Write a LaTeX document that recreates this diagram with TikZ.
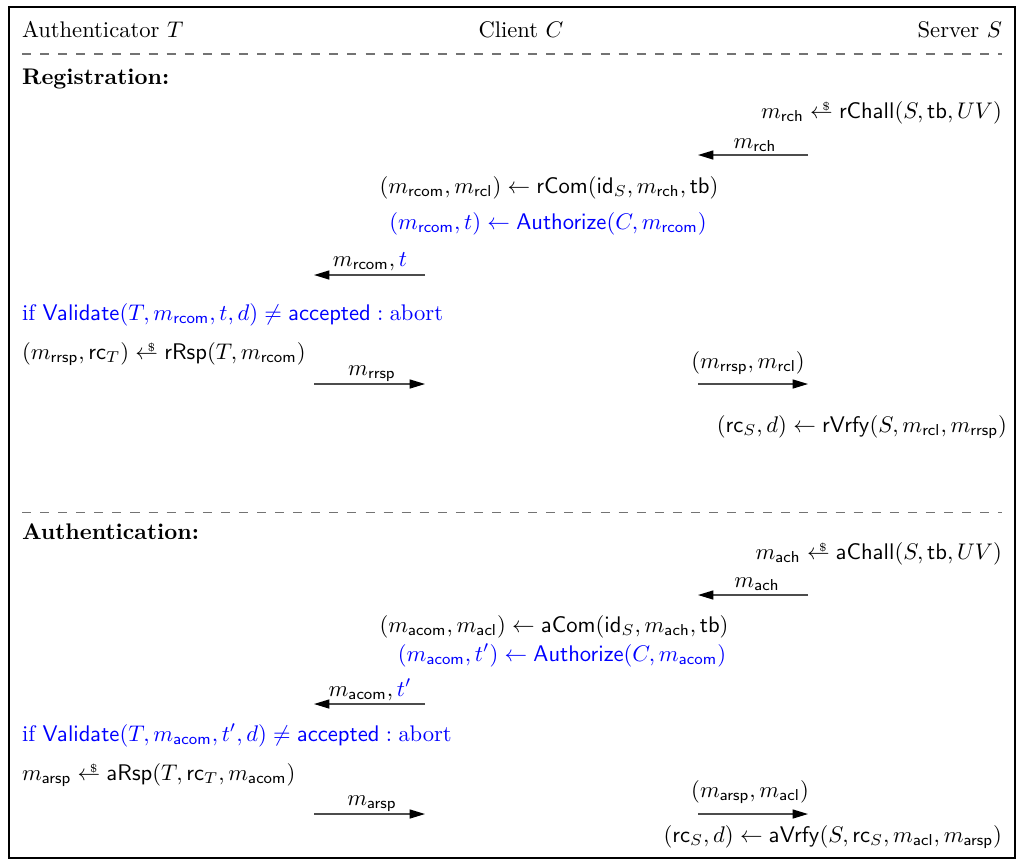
\documentclass[tikz,border=0pt]{standalone}
\usetikzlibrary{arrows.meta}
\newcommand{\msf}[1]{\mathsf{#1}}
\newcommand{\sampl}{\mathrel{\ooalign{$\leftarrow$\cr\hfil\raisebox{0.8ex}{$\scriptscriptstyle\$$}\kern1.2pt\cr}}}
\begin{document}
\begin{tikzpicture}[x=0.4425pt,y=-0.4425pt,
  txt/.style={inner sep=0pt, outer sep=0pt},
  lft/.style={txt, anchor=base west},
  rgt/.style={txt, anchor=base east},
  ctr/.style={txt, anchor=base},
  msg/.style={draw=black!70, line width=0.55pt, -{Triangle[length=6.8pt,width=4pt,color=black]}},
  sep/.style={draw=black!55, dash pattern=on 4pt off 4pt, line width=0.45pt},
  frame/.style={draw=black, line width=1.2pt}]
\useasboundingbox (0,0) rectangle (1025,866);
\draw[frame] (9,7) rectangle (1015,858);
% header
\node[lft] (hT) at (22,37) {Authenticator $T$};
\node[ctr] (hC) at (521,37) {Client $C$};
\node[rgt] (hS) at (1002,37) {Server $S$};
\draw[sep] (22,54) -- (1002,54);
% registration
\node[lft] (reg) at (22,84) {\textbf{Registration:}};
\node[rgt] (rch) at (1002,118) {$m_{\msf{rch}} \sampl \msf{rChall}(S,\msf{tb},UV)$};
\coordinate (a1s) at (808,155); \coordinate (a1e) at (698,155);
\draw[msg] (a1s) -- (a1e);
\node[ctr] (l1) at (755,148) {$m_{\msf{rch}}$};
\node[ctr] (rcom) at (549,193) {$(m_{\msf{rcom}},m_{\msf{rcl}}) \leftarrow \msf{rCom}(\msf{id}_S,m_{\msf{rch}},\msf{tb})$};
\node[ctr,text=blue] (auth1) at (548,229) {$(m_{\msf{rcom}},t) \leftarrow \msf{Authorize}(C,m_{\msf{rcom}})$};
\coordinate (a2s) at (425,275); \coordinate (a2e) at (314,275);
\draw[msg] (a2s) -- (a2e);
\node[ctr] (l2) at (370,266) {$m_{\msf{rcom}},\textcolor{blue}{t}$};
\node[lft,text=blue] (val1) at (22,320) {if $\msf{Validate}(T,m_{\msf{rcom}},t,d) \neq \msf{accepted} : \mathrm{abort}$};
\node[lft] (rrsp) at (22,359) {$(m_{\msf{rrsp}},\msf{rc}_T) \sampl \msf{rRsp}(T,m_{\msf{rcom}})$};
\coordinate (a3s) at (314,384); \coordinate (a3e) at (425,384);
\draw[msg] (a3s) -- (a3e);
\node[ctr] (l3) at (372,375) {$m_{\msf{rrsp}}$};
\coordinate (a4s) at (698,384); \coordinate (a4e) at (808,384);
\draw[msg] (a4s) -- (a4e);
\node[ctr] (l4) at (748,368) {$(m_{\msf{rrsp}},m_{\msf{rcl}})$};
\node[rgt] (rvrfy) at (1007,432) {$(\msf{rc}_S,d) \leftarrow \msf{rVrfy}(S,m_{\msf{rcl}},m_{\msf{rrsp}})$};
% authentication
\draw[sep] (22,512) -- (1002,512);
\node[lft] (auth) at (22,539) {\textbf{Authentication:}};
\node[rgt] (ach) at (1002,559) {$m_{\msf{ach}} \sampl \msf{aChall}(S,\msf{tb},UV)$};
\coordinate (b1s) at (808,595); \coordinate (b1e) at (698,595);
\draw[msg] (b1s) -- (b1e);
\node[ctr] (m1) at (757,587) {$m_{\msf{ach}}$};
\node[ctr] (acom) at (554,632) {$(m_{\msf{acom}},m_{\msf{acl}}) \leftarrow \msf{aCom}(\msf{id}_S,m_{\msf{ach}},\msf{tb})$};
\node[ctr,text=blue] (auth2) at (562,661) {$(m_{\msf{acom}},t') \leftarrow \msf{Authorize}(C,m_{\msf{acom}})$};
\coordinate (b2s) at (425,704); \coordinate (b2e) at (314,704);
\draw[msg] (b2s) -- (b2e);
\node[ctr] (m2) at (370,696) {$m_{\msf{acom}},\textcolor{blue}{t'}$};
\node[lft,text=blue] (val2) at (22,741) {if $\msf{Validate}(T,m_{\msf{acom}},t',d) \neq \msf{accepted} : \mathrm{abort}$};
\node[lft] (arsp) at (22,780) {$m_{\msf{arsp}} \sampl \msf{aRsp}(T,\msf{rc}_T,m_{\msf{acom}})$};
\coordinate (b3s) at (314,814); \coordinate (b3e) at (425,814);
\draw[msg] (b3s) -- (b3e);
\node[ctr] (m3) at (372,805) {$m_{\msf{arsp}}$};
\coordinate (b4s) at (698,814); \coordinate (b4e) at (808,814);
\draw[msg] (b4s) -- (b4e);
\node[ctr] (m4) at (750,797) {$(m_{\msf{arsp}},m_{\msf{acl}})$};
\node[rgt] (avrfy) at (1002,842) {$(\msf{rc}_S,d) \leftarrow \msf{aVrfy}(S,\msf{rc}_S,m_{\msf{acl}},m_{\msf{arsp}})$};
\end{tikzpicture}
\end{document}
